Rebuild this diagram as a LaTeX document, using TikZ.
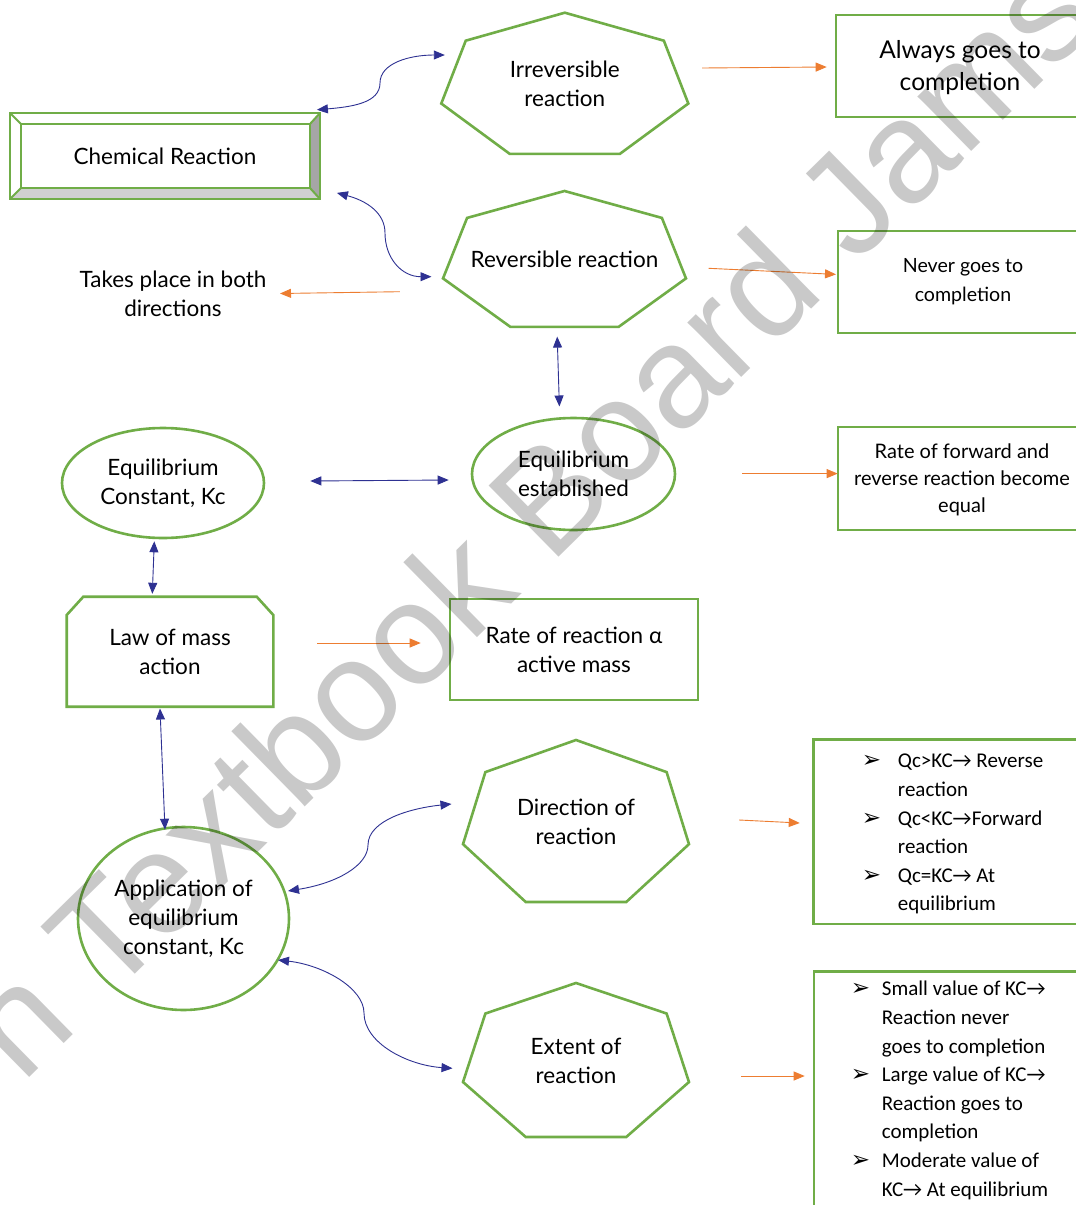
\documentclass[tikz,border=0pt]{standalone}
\usepackage{fontspec}
\setmainfont{Lato}
\newfontfamily\calib{Carlito}
\newfontfamily\dejavu{DejaVu Sans}
\newfontfamily\wmfont{Liberation Sans}
\usetikzlibrary{arrows.meta,shapes.geometric}
\definecolor{grn}{HTML}{70AD47}
\definecolor{blu}{HTML}{2E3192}
\definecolor{org}{HTML}{ED7D31}
\definecolor{bevdark}{HTML}{A6A6A6}
\definecolor{bevlight}{HTML}{D0D0D0}
\newcommand\myarw{\iffontchar\font"2192 →\else{\dejavu →}\fi}
\newcommand\mybul{{\dejavu\fontsize{23}{23}\selectfont ➢}}
\newcommand\myalpha{\iffontchar\font"03B1 α\else{\dejavu α}\fi}
\newcommand\myhept[6]{%
  \draw[gline] ({#2},{#3-#5}) \foreach \k in {1,...,6}{ -- ({#2+#4*cos(90+\k*360/7)},{#3-#5*sin(90+\k*360/7)}) } -- cycle;
  \node[ellipse, inner sep=0pt, minimum width={2*#4pt}, minimum height={2*#5pt}] (#1) at (#2,#3) {};
  \node[txt] at (#2,#3-3) {#6};
}
\begin{document}
\begin{tikzpicture}[x=1pt,y=-1pt,
  gline/.style={draw=grn, line width=2.6pt},
  txt/.style={font=\fontsize{22.5}{29}\selectfont, align=center},
  gbox/.style={gline, rectangle, inner sep=0pt, align=center},
  gell/.style={gline, ellipse, inner sep=0pt, align=center, font=\fontsize{22.5}{29}\selectfont},
  barr/.style={blu, line width=0.9pt, {Triangle[length=11pt,width=9pt]}-{Triangle[length=11pt,width=9pt]}},
  oarr/.style={org, line width=0.9pt, -{Triangle[length=11pt,width=9pt]}},
  bul/.style={anchor=north west, inner sep=0pt, align=left, font=\calib\fontsize{21}{28.6}\selectfont}
]
\useasboundingbox (0,0) rectangle (1076,1205);
\clip (0,0) rectangle (1076,1205);
\fill[white] (0,0) rectangle (1076,1205);

% Chemical reaction bevel box
\fill[bevdark] (310,124) -- (320,113) -- (320,199) -- (310,188) -- cycle;
\fill[bevlight] (21,188) -- (310,188) -- (320,199) -- (10,199) -- cycle;
\draw[gline] (10,113) rectangle (320,199);
\draw[gline] (21,124) rectangle (310,188);
\draw[draw=grn, line width=2pt] (10,113) -- (21,124) (320,113) -- (310,124) (320,199) -- (310,188) (10,199) -- (21,188);
\node[txt, font=\fontsize{22.5}{29}\selectfont, minimum width=310pt, minimum height=86pt, inner sep=0pt] (chem) at (165,156) {Chemical Reaction};

% heptagons
\myhept{irr}{564.8}{87}{126.7}{74.3}{Irreversible\\reaction}
\myhept{rev}{564.5}{262.5}{124.6}{71.5}{Reversible reaction}
\myhept{dir}{576}{825.2}{115.9}{85.2}{Direction of\\reaction}
\myhept{ext}{576}{1064}{115.9}{81}{Extent of\\reaction}

% right boxes
\node[gbox, minimum width=248pt, minimum height=102pt] (always) at (960,66) {};
\node[font=\fontsize{24.5}{32}\selectfont, align=center] at (960,68) {Always goes to\\completion};
\node[gbox, minimum width=250pt, minimum height=102pt, font=\fontsize{19.6}{29}\selectfont] (never) at (963,282) {Never goes to\\completion};
\node[gbox, minimum width=248pt, minimum height=103pt] (ratefwd) at (962,478.5) {};
\node[font=\fontsize{20}{27}\selectfont, align=center] at (962,480) {Rate of forward and\\reverse reaction become\\equal};
\node[gbox, minimum width=248pt, minimum height=101pt, font=\fontsize{22.5}{29}\selectfont] (rateact) at (574,649.5) {Rate of reaction \myalpha\\active mass};
\node[gbox, minimum width=276.7pt, minimum height=184.7pt] (box1) at (951.7,831.7) {};
\node[gbox, minimum width=276pt, minimum height=258.3pt] (box2) at (952,1100.9) {};

% text only
\node[txt, inner sep=0pt] (takes) at (173,293.5) {Takes place in both\\directions};

% ellipses
\node[gell, minimum width=202pt, minimum height=110pt] (eqconst) at (163,483) {Equilibrium\\Constant, Kc};
\node[gell, minimum width=203pt, minimum height=112pt] (eqest) at (573.5,474) {Equilibrium\\established};
\node[gell, minimum width=211pt, minimum height=183pt] (app) at (183.5,918.5) {Application of\\equilibrium\\constant, Kc};

% law of mass action
\draw[gline] (66.7,615) -- (83.3,596.7) -- (256.7,596.7) -- (273.3,615) -- (273.3,706.7) -- (66.7,706.7) -- cycle;
\node[txt, minimum width=206.6pt, minimum height=110pt, inner sep=0pt] (law) at (170,651.7) {Law of mass\\action};

% bullet texts
\node[bul] (b1) at ([shift={(49.7,9.7)}]box1.north west) {\strut\makebox[36pt][l]{\mybul}Qc>KC\myarw{} Reverse\\
\hspace*{36pt}reaction\\
\makebox[36pt][l]{\mybul}Qc<KC\myarw{}Forward\\
\hspace*{36pt}reaction\\
\makebox[36pt][l]{\mybul}Qc=KC\myarw{} At\\
\hspace*{36pt}equilibrium};
\node[bul] (b2) at ([shift={(38,5.3)}]box2.north west) {\strut\makebox[31pt][l]{\mybul}Small value of KC\myarw\\
\hspace*{31pt}Reaction never\\
\hspace*{31pt}goes to completion\\
\makebox[31pt][l]{\mybul}Large value of KC\myarw\\
\hspace*{31pt}Reaction goes to\\
\hspace*{31pt}completion\\
\makebox[31pt][l]{\mybul}Moderate value of\\
\hspace*{31pt}KC\myarw{} At equilibrium};

% blue connectors
\draw[barr] ([shift={(-3.3,-3)}]chem.north east) .. controls +(35,-3) and +(0,20) .. (380,83) .. controls +(0,-20) and +(-35,0) .. ([shift={(6.9,-32)}]irr.west);
\draw[barr] ([shift={(16.7,-6.3)}]chem.south east) .. controls +(30,8) and +(0,-20) .. (385,233) .. controls +(0,25) and +(-30,0) .. ([shift={(-8.2,14.2)}]rev.west);
\draw[barr] ([shift={(-7.3,2.4)}]rev.south) -- ([shift={(-14.1,-10.2)}]eqest.north);
\draw[barr] ([shift={(45,-2)}]eqconst.east) -- ([shift={(-22,6)}]eqest.west);
\draw[barr] ([shift={(-8.7,2)}]eqconst.south) -- ([shift={(-17.7,-2.7)}]law.north);
\draw[barr] ([shift={(-10,1.6)}]law.south) -- ([shift={(-18.5,4)}]app.north);
\draw[barr] ([shift={(-2.3,-27.5)}]app.east) .. controls +(50,-8) and +(0,20) .. (368,845) .. controls +(0,-25) and +(-40,4) .. ([shift={(-8.4,-21.2)}]dir.west);
\draw[barr] ([shift={(-12.3,41.5)}]app.east) .. controls +(45,5) and +(0,-25) .. (364,1013) .. controls +(0,30) and +(-45,-3) .. ([shift={(-7.4,4.3)}]ext.west);

% orange connectors
\draw[oarr] ([shift={(10.5,-19)}]irr.east) -- ([shift={(-8,1)}]always.west);
\draw[oarr] ([shift={(19.3,5.8)}]rev.east) -- ([shift={(-0.7,-7.6)}]never.west);
\draw[oarr] ([shift={(-39.9,29.2)}]rev.west) -- ([xshift=107]takes.center);
\draw[oarr] ([shift={(66,-0.4)}]eqest.east) -- ([shift={(1,-4.9)}]ratefwd.west);
\draw[oarr] ([shift={(43.7,-8.7)}]law.east) -- ([shift={(-28,-6.5)}]rateact.west);
\draw[oarr] ([shift={(47.1,-5.2)}]dir.east) -- ([shift={(-12.3,-8.7)}]box1.west);
\draw[oarr] ([shift={(49.1,12)}]ext.east) -- ([shift={(-8,-24.9)}]box2.west);

% watermark
\node[font=\wmfont\fontsize{145}{145}\selectfont, rotate=44.5, anchor=base west, inner sep=0pt, text=black, text opacity=0.21] (wm) at (22,1085) {n Textbook Board Jamsh};
\end{tikzpicture}
\end{document}
